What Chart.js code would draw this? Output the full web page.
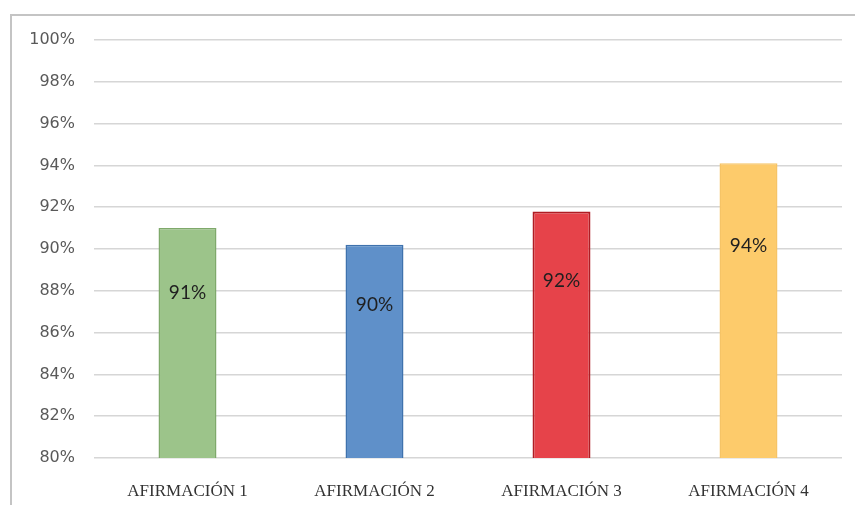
<!DOCTYPE html>
<html>
<head>
<meta charset="utf-8">
<script src="https://cdn.jsdelivr.net/npm/chart.js@4/dist/chart.umd.min.js"></script>
<style>
  html, body { margin: 0; padding: 0; background: #ffffff; }
  #wrap { position: relative; width: 855px; height: 505px; overflow: hidden; }
  #frame {
    position: absolute; left: 10px; top: 14px; width: 860px; height: 500px;
    border-left: 2px solid #c4c4c4; border-top: 2px solid #c4c4c4;
    box-sizing: border-box;
  }
  canvas { position: absolute; left: 0; top: 0; }
</style>
</head>
<body>
<div id="wrap">
  <div id="frame"></div>
  <canvas id="chart" width="855" height="505"></canvas>
</div>
<script>
// Categories and the share of agreement for each statement (percent)
const categories = ['AFIRMACIÓN 1', 'AFIRMACIÓN 2', 'AFIRMACIÓN 3', 'AFIRMACIÓN 4'];
const values = [91.0, 90.2, 91.8, 94.1];
const yTicks = [80, 82, 84, 86, 88, 90, 92, 94, 96, 98, 100];

const fillColors = ['#9cc48a', '#5f90c9', '#e6434a', '#fdcb6b'];
const edgeColors = ['#7fa96b', '#3f72ad', '#b01c23', '#f6c466'];
const edgeWidths = [1.5, 1.5, 2, 1.5];

// Writes the rounded value inside each bar, in its upper part
const barValueLabels = {
  id: 'barValueLabels',
  afterDraw(chart) {
    const ctx = chart.ctx;
    const xs = chart.scales.x;
    const ys = chart.scales.y;
    const data = chart.data.datasets[0].data;
    ctx.save();
    ctx.font = '19px Lato, "Open Sans", sans-serif';
    ctx.fillStyle = '#1f1f1f';
    ctx.textAlign = 'center';
    ctx.textBaseline = 'middle';
    for (let i = 0; i < data.length; i++) {
      const top = ys.getPixelForValue(data[i]);
      const base = ys.bottom;
      const x = xs.getPixelForValue(i);
      ctx.fillText(Math.round(data[i]) + '%', x, top + 0.28 * (base - top));
    }
    ctx.restore();
  }
};

new Chart(document.getElementById('chart'), {
  type: 'bar',
  data: {
    labels: categories,
    datasets: [{
      data: values,
      backgroundColor: fillColors,
      borderColor: edgeColors,
      borderWidth: edgeWidths,
      categoryPercentage: 1.0,
      barPercentage: 0.31
    }]
  },
  options: {
    responsive: false,
    animation: false,
    devicePixelRatio: 1,
    layout: { padding: { top: 40, right: 13, bottom: 0, left: 0 } },
    plugins: {
      legend: { display: false },
      tooltip: { enabled: false }
    },
    scales: {
      x: {
        grid: { display: false, drawTicks: false },
        border: { display: false },
        ticks: {
          padding: 23,
          color: '#333333',
          font: { family: '"Liberation Serif", serif', size: 17 }
        },
        afterFit(scale) { scale.height = 47; }
      },
      y: {
        min: 80,
        max: 100,
        afterBuildTicks(scale) {
          scale.ticks = yTicks.map(v => ({ value: v }));
        },
        grid: { color: '#d6d6d6', lineWidth: 1.5, drawTicks: false },
        border: { display: false },
        ticks: {
          padding: 19,
          color: '#595959',
          font: { family: '"DejaVu Sans", sans-serif', size: 16 },
          callback: v => v + '%'
        },
        afterFit(scale) { scale.width = 94; }
      }
    }
  },
  plugins: [barValueLabels]
});
</script>
</body>
</html>
